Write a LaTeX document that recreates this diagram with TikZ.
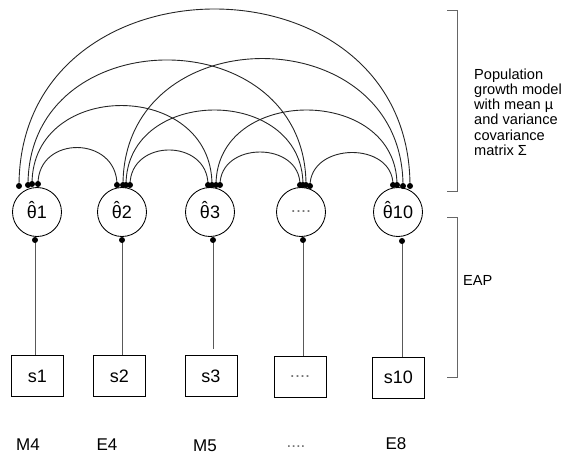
\documentclass[tikz,border=0pt]{standalone}
\usepackage{fontspec}
\setmainfont{Liberation Sans}
\usetikzlibrary{calc}
\newcommand{\thhat}{{\ooalign{θ\cr\hidewidth\raisebox{0.2em}{ˆ}\hidewidth\cr}}}
\begin{document}
\begin{tikzpicture}[x=1pt,y=-1pt,
  var/.style={draw=black, line width=0.85pt, circle, minimum size=49pt, inner sep=0pt, font=\fontsize{18}{20}\selectfont},
  obs/.style={draw=black, line width=0.9pt, rectangle, minimum width=52pt, minimum height=41pt, inner sep=0pt, font=\fontsize{18}{20}\selectfont},
  lab/.style={inner sep=0pt, font=\fontsize{17}{19}\selectfont},
  side/.style={inner sep=0pt, align=left, font=\fontsize{14.6}{15.2}\selectfont},
  faint/.style={text=black!55},
  cov/.style={draw=black!85, line width=0.9pt},
  stem/.style={draw=black!65, line width=1pt},
  brk/.style={draw=black!60, line width=1pt},
  dotc/.style={circle, fill=black, inner sep=0pt, minimum size=6pt}]
\useasboundingbox (0,0) rectangle (566,458);

% latent nodes
\node[var] (t1) at (37,212) {\thhat1};
\node[var] (t2) at (122,212) {\thhat2};
\node[var] (t3) at (210,212) {\thhat3};
\node[var, faint] (t4) at (301,212) {....};
\node[var] (t5) at (398,212) {\thhat10};

% observed boxes
\node[obs] (b1) at (37.5,376) {s1};
\node[obs] (b2) at (119.5,376) {s2};
\node[obs] (b3) at (211,376) {s3};
\node[obs, faint] (b4) at (300,376.5) {....};
\node[obs] (b5) at (398.5,377.5) {s10};

% labels
\node[lab] (l1) at (28,445) {M4};
\node[lab] (l2) at (107,445) {E4};
\node[lab] (l3) at (205,446) {M5};
\node[lab, faint] (l4) at (296,447) {....};
\node[lab] (l5) at (396,444) {E8};

% arc end points on top of circles
\coordinate (p14) at (19,186);
\coordinate (p13) at (28,185);
\coordinate (p12) at (32,184);
\coordinate (p11) at (38,184);
\coordinate (p21) at (117,185);
\coordinate (p24) at (123,185);
\coordinate (p23) at (126,185);
\coordinate (p22) at (130,185);
\coordinate (p31) at (208,185);
\coordinate (p32) at (212,185);
\coordinate (p33) at (216,185);
\coordinate (p34) at (220,185);
\coordinate (p41) at (300,185);
\coordinate (p42) at (303,185);
\coordinate (p43) at (306,185);
\coordinate (p44) at (310,186);
\coordinate (p51) at (393,185);
\coordinate (p52) at (397,185);
\coordinate (p53) at (403,186);
\coordinate (p54) at (410,186);

% covariance arcs
\draw[cov] (p11) .. controls +(0,-49.3) and +(0,-49.3) .. (p21);
\draw[cov] (p12) .. controls +(0,-105.3) and +(0,-105.3) .. (p32);
\draw[cov] (p13) .. controls +(0,-166.7) and +(0,-166.7) .. (p43);
\draw[cov] (p14) .. controls +(0,-236) and +(0,-236) .. (p54);
\draw[cov] (p22) .. controls +(0,-46.7) and +(0,-46.7) .. (p31);
\draw[cov] (p23) .. controls +(0,-100) and +(0,-100) .. (p42);
\draw[cov] (p24) .. controls +(0,-169.3) and +(0,-169.3) .. (p53);
\draw[cov] (p34) .. controls +(0,-44) and +(0,-44) .. (p41);
\draw[cov] (p33) .. controls +(0,-100) and +(0,-100) .. (p52);
\draw[cov] (p44) .. controls +(0,-44) and +(0,-44) .. (p51);

\foreach \c in {p11,p12,p13,p14,p21,p22,p23,p24,p31,p32,p33,p34,p41,p42,p43,p44,p51,p52,p53,p54}
  \node[dotc] at (\c) {};

% bottom dots and stems
\coordinate (q1) at (35,240);
\coordinate (q2) at (122,240);
\coordinate (q3) at (213,240);
\coordinate (q4) at (303,240);
\coordinate (q5) at (402,241);
\draw[stem] (q1) -- (q1 |- b1.north);
\draw[stem] (q2) -- (q2 |- b2.north);
\draw[stem] (q3) -- ([yshift=6pt]q3 |- b3.north);
\draw[stem] (q4) -- (q4 |- b4.north);
\draw[stem] (q5) -- (q5 |- b5.north);
\foreach \c in {q1,q2,q3,q4,q5}
  \node[dotc] at (\c) {};

% brackets
\coordinate (k1a) at (457,10);
\coordinate (k1b) at (457,191);
\coordinate (k2a) at (457,217);
\coordinate (k2b) at (457,377);
\draw[brk] ([xshift=-10pt]k1a) -- (k1a) -- (k1b) -- ([xshift=-10pt]k1b);
\draw[brk] ([xshift=-10pt]k2a) -- (k2a) -- (k2b) -- ([xshift=-10pt]k2b);

% side texts
\node[side, anchor=west] (pg) at (474,112) {Population\\growth model\\with mean µ\\and variance\\covariance\\matrix Σ};
\node[side, anchor=west] (eap) at (463,280) {EAP};
\end{tikzpicture}
\end{document}
